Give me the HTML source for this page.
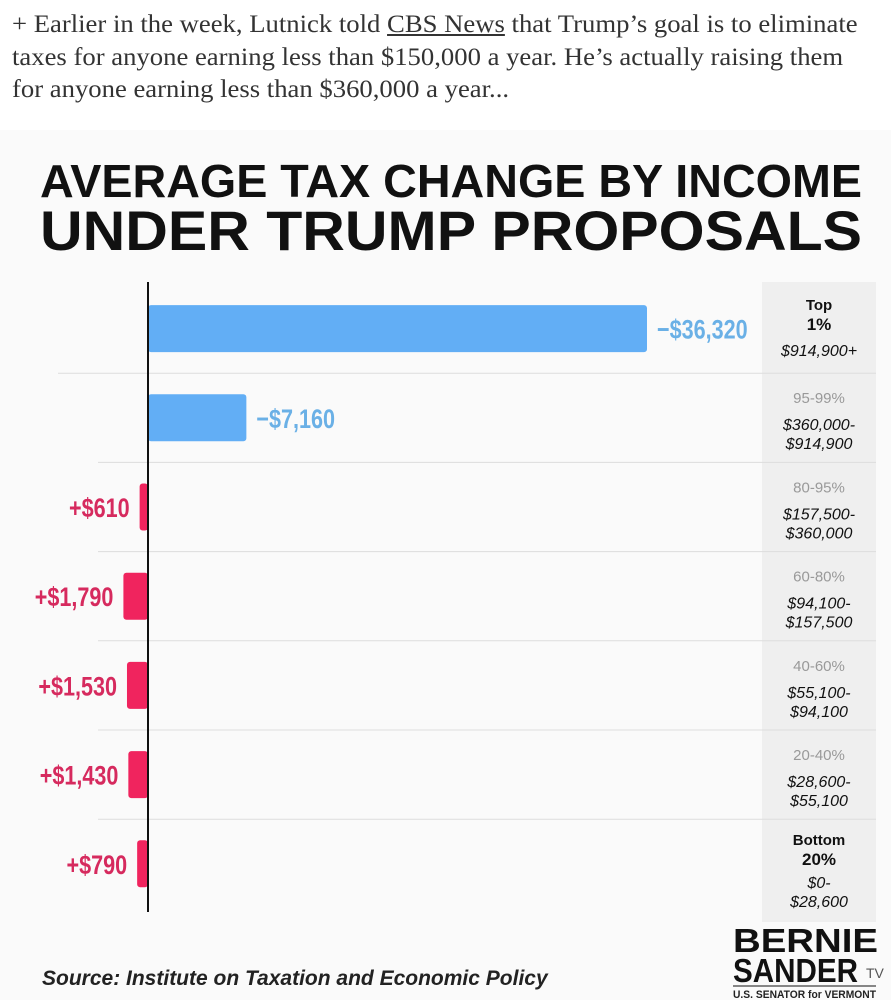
<!DOCTYPE html>
<html><head><meta charset="utf-8"><style>
html,body{margin:0;padding:0;background:#fff;}
body{width:891px;height:1000px;overflow:hidden;position:relative;font-family:"Liberation Sans",sans-serif;}
.intro{position:absolute;left:12px;top:9px;font-family:"Liberation Serif",serif;font-size:25px;line-height:32.5px;color:#333;white-space:nowrap;transform:scaleX(1.067);transform-origin:0 0;}
.intro a{color:#333;text-decoration:underline;}
</style></head><body>
<div class="intro">+ Earlier in the week, Lutnick told <a>CBS News</a> that Trump’s goal is to eliminate<br>taxes for anyone earning less than $150,000 a year. He’s actually raising them<br>for anyone earning less than $360,000 a year...</div>
<svg id="chart" width="891" height="1000" style="position:absolute;left:0;top:0">
  <rect x="0" y="130" width="891" height="870" fill="#fafafa"/>
  <text x="40" y="197" font-size="46" font-weight="bold" textLength="822" lengthAdjust="spacingAndGlyphs" fill="#111">AVERAGE TAX CHANGE BY INCOME</text>
  <text x="40" y="250" font-size="56" font-weight="bold" textLength="822" lengthAdjust="spacingAndGlyphs" fill="#111">UNDER TRUMP PROPOSALS</text>
  <rect x="762" y="282" width="114" height="640" fill="#efefef"/>
  <g id="rows"></g>
  <line x1="148" y1="282" x2="148" y2="912" stroke="#111" stroke-width="2"/>
  <text x="42" y="985" font-size="21" font-weight="bold" font-style="italic" fill="#222">Source: Institute on Taxation and Economic Policy</text>
  <g>
    <text x="733" y="952" font-size="33" font-weight="bold" fill="#111" textLength="145" lengthAdjust="spacingAndGlyphs">BERNIE</text>
    <text x="733" y="982" font-size="33" font-weight="bold" fill="#111" textLength="125" lengthAdjust="spacingAndGlyphs">SANDER</text>
    <text x="866" y="978" font-size="14" fill="#555">TV</text>
    <line x1="733" y1="986" x2="876" y2="986" stroke="#111" stroke-width="1"/>
    <text x="733" y="998" font-size="11" font-weight="bold" fill="#222" textLength="143" lengthAdjust="spacingAndGlyphs">U.S. SENATOR for VERMONT</text>
  </g>
</svg>
<script>
const groups = ["Top 1%","95-99%","80-95%","60-80%","40-60%","20-40%","Bottom 20%"];
const ranges = [["$914,900+"],["$360,000-","$914,900"],["$157,500-","$360,000"],["$94,100-","$157,500"],["$55,100-","$94,100"],["$28,600-","$55,100"],["$0-","$28,600"]];
const changes = [-36320,-7160,610,1790,1530,1430,790];
const labels = ["−$36,320","−$7,160","+$610","+$1,790","+$1,530","+$1,430","+$790"];

const NS="http://www.w3.org/2000/svg";
const g=document.getElementById('rows');
const zeroX=148, scale=499/36320, rowTop=284, rowH=89.2, barH=47;
const x=v=>zeroX - v*scale;
function mk(t,a){const e=document.createElementNS(NS,t);for(const k in a)e.setAttribute(k,a[k]);g.appendChild(e);return e;}
changes.forEach((v,i)=>{
  const cy=rowTop+rowH*i+rowH/2;
  if(i>0){const s=mk('line',{x1:i<2?58:98,y1:rowTop+rowH*i,x2:876,y2:rowTop+rowH*i,stroke:'#ddd','stroke-width':1});
    
    }
  const x0=Math.min(zeroX,x(v)), w=Math.abs(x(v)-zeroX);
  const cut=v<0;
  const b=mk('rect',{x:x0,y:cy-barH/2,width:w,height:barH,rx:3,fill:cut?'#62aef5':'#f0245e'});
  
  
  const tx=cut?x0+w+10:x0-10;
  const t=mk('text',{x:tx,y:cy+10,'font-size':27,'font-weight':'bold','text-anchor':cut?'start':'end',fill:cut?'#6ab0e6':'#d62a5e',transform:`translate(${tx},0) scale(0.8,1) translate(${-tx},0)`});
  t.textContent=labels[i];
  
  
  const bold=(i==0||i==6);
  const p=groups[i].split(' ');
  let y0=rowTop+rowH*i+(bold?26:30);
  if(bold){
    const a=mk('text',{x:819,y:y0,'font-size':15,'font-weight':'bold','text-anchor':'middle',fill:'#111'});a.textContent=p[0];
    const c=mk('text',{x:819,y:y0+20,'font-size':17,'font-weight':'bold','text-anchor':'middle',fill:'#111'});c.textContent=p[1];
    
    
    y0+=16;
  } else {
    const a=mk('text',{x:819,y:y0,'font-size':15,'text-anchor':'middle',fill:'#999'});a.textContent=groups[i];
    
  }
  ranges[i].forEach((r,j)=>{
    const rt=mk('text',{x:819,y:y0+(ranges[i].length==1?30:27)+j*19,'font-size':16,'font-style':'italic','text-anchor':'middle',fill:'#111'});
    rt.textContent=r;
    
    
  });
});
</script>
</body></html>
